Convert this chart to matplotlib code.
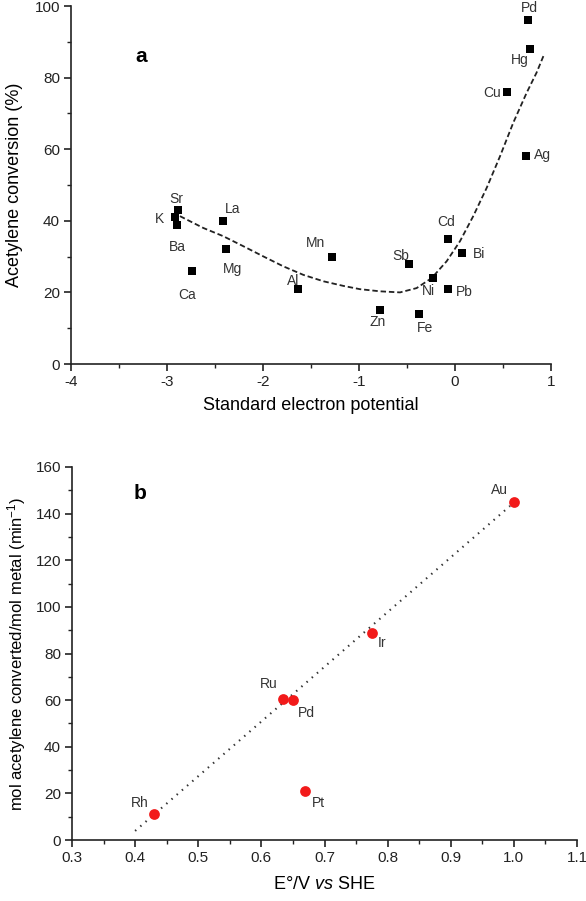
import matplotlib
matplotlib.use("Agg")
import matplotlib.pyplot as plt
from matplotlib.ticker import MultipleLocator, FormatStrFormatter

plt.rcParams['font.family'] = ['Liberation Sans', 'DejaVu Sans']
plt.rcParams['mathtext.fontset'] = 'custom'
plt.rcParams['mathtext.rm'] = 'Liberation Sans'
plt.rcParams['mathtext.it'] = 'Liberation Sans:italic'
plt.rcParams['axes.unicode_minus'] = False

# ---------------- Panel a data ----------------
a_metals = ['Sr', 'K', 'Ba', 'La', 'Mg', 'Ca', 'Mn', 'Al', 'Pd', 'Hg', 'Cu', 'Ag',
            'Cd', 'Bi', 'Sb', 'Ni', 'Pb', 'Zn', 'Fe']
a_potential = [-2.89, -2.92, -2.90, -2.42, -2.385, -2.74, -1.28, -1.635, 0.76, 0.78,
               0.54, 0.74, -0.07, 0.073, -0.48, -0.23, -0.07, -0.78, -0.375]
a_conversion = [43, 41.2, 38.7, 40, 32.2, 26, 30, 21, 96, 88,
                76, 58, 35, 31, 28, 24, 21, 15, 14]
# label anchor positions (data coords)
a_label_x = [-2.90, -3.08, -2.89, -2.32, -2.32, -2.79, -1.45, -1.69, 0.77, 0.67,
             0.385, 0.906, -0.094, 0.25, -0.57, -0.28, 0.10, -0.81, -0.31]
a_label_y = [46.2, 40.6, 32.8, 43.4, 26.6, 19.3, 33.9, 23.2, 99.4, 85,
             75.6, 58.3, 39.8, 30.8, 30.3, 20.4, 20.2, 11.8, 10]
# trend curve
a_fit_x = [-2.865, -2.622, -2.414, -2.205, -2.0, -1.79, -1.58, -1.37, -1.16, -0.99,
           -0.78, -0.573, -0.40, -0.243, -0.087, 0.052, 0.19, 0.33, 0.47, 0.607,
           0.747, 0.85, 0.93]
a_fit_y = [41.3, 38.0, 35.7, 32.9, 30.1, 27.3, 24.9, 23.1, 21.8, 20.9,
           20.3, 20.0, 21.2, 24.0, 28.7, 34.3, 41.3, 49.2, 58.1, 67.4,
           75.8, 81.4, 86.6]

# ---------------- Panel b data ----------------
b_metals = ['Rh', 'Ru', 'Pd', 'Ir', 'Au', 'Pt']
b_potential = [0.43, 0.634, 0.65, 0.775, 1.0, 0.669]
b_rate = [11, 60.5, 60, 89, 145, 21]
b_label_x = [0.408, 0.612, 0.672, 0.791, 0.977, 0.69]
b_label_y = [15.9, 67, 54.5, 84.5, 150, 15.9]
b_fit_x = [0.40, 0.994]
b_fit_y = [3.9, 143.3]

fig = plt.figure(figsize=(5.86, 9.01), dpi=100)

def style(ax):
    for s in ['top', 'right']:
        ax.spines[s].set_visible(False)
    for s in ['left', 'bottom']:
        ax.spines[s].set_linewidth(1.2)
        ax.spines[s].set_color('#222222')
    ax.tick_params(which='major', direction='out', length=5, width=1.2,
                   labelsize=11, colors='#222222', pad=3)
    ax.tick_params(which='minor', direction='out', length=3, width=1.0, colors='#222222')

# Panel a
ax1 = fig.add_axes([71/586, 1-364/901, 480/586, 358/901])
style(ax1)
ax1.plot(a_fit_x, a_fit_y, color='#222222', lw=1.3, linestyle=(0, (3, 1.6)), zorder=2)
ax1.scatter(a_potential, a_conversion, marker='s', s=38, color='black', zorder=3, linewidths=0)
for name, lx, ly in zip(a_metals, a_label_x, a_label_y):
    ax1.text(lx, ly, name, ha='center', va='center', fontsize=10, color='#333333',
             clip_on=False)
ax1.set_xlim(-4, 1)
ax1.set_ylim(0, 100)
ax1.xaxis.set_major_locator(MultipleLocator(1))
ax1.xaxis.set_minor_locator(MultipleLocator(0.5))
ax1.yaxis.set_major_locator(MultipleLocator(20))
ax1.yaxis.set_minor_locator(MultipleLocator(10))
ax1.set_xlabel('Standard electron potential', fontsize=13, labelpad=6)
ax1.set_ylabel('Acetylene conversion (%)', fontsize=13, labelpad=8)
ax1.text(-3.27, 86, 'a', fontsize=15, fontweight='bold', ha='center', va='center')

# Panel b
ax2 = fig.add_axes([72/586, 1-840/901, 505/586, 373/901])
style(ax2)
ax2.plot(b_fit_x, b_fit_y, color='#333333', lw=1.5, linestyle=(0, (0.7, 2.6)), zorder=2)
ax2.scatter(b_potential, b_rate, marker='o', s=60, color='#f21a1a', zorder=3, linewidths=0)
for name, lx, ly in zip(b_metals, b_label_x, b_label_y):
    ax2.text(lx, ly, name, ha='center', va='center', fontsize=10, color='#333333')
ax2.set_xlim(0.3, 1.1)
ax2.set_ylim(0, 160)
ax2.xaxis.set_major_locator(MultipleLocator(0.1))
ax2.xaxis.set_minor_locator(MultipleLocator(0.05))
ax2.yaxis.set_major_locator(MultipleLocator(20))
ax2.yaxis.set_minor_locator(MultipleLocator(10))
ax2.xaxis.set_major_formatter(FormatStrFormatter('%.1f'))
ax2.set_xlabel('E°/V $\\mathit{vs}$ SHE', fontsize=13, labelpad=8)
ax2.set_ylabel('mol acetylene converted/mol metal (min$^{-1}$)', fontsize=12, labelpad=5)
ax2.text(0.408, 148.5, 'b', fontsize=15, fontweight='bold', ha='center', va='center')

fig.savefig('out.png', dpi=100)
